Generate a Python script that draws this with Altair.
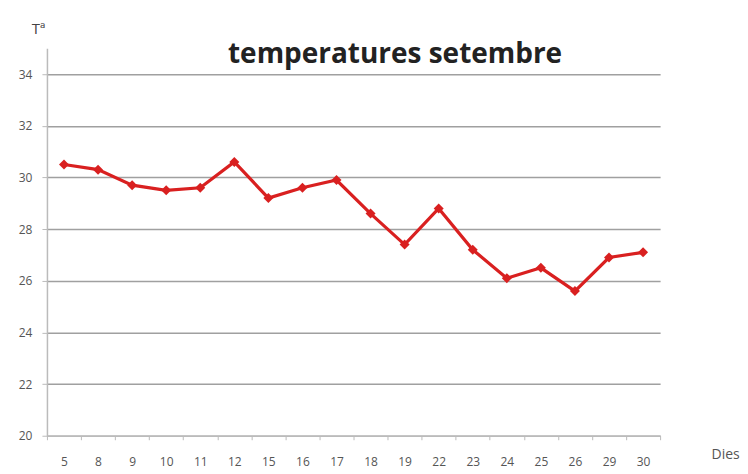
import altair as alt
import pandas as pd

dies = ["5", "8", "9", "10", "11", "12", "15", "16", "17", "18", "19", "22", "23", "24", "25", "26", "29", "30"]
temps = [30.5, 30.3, 29.7, 29.5, 29.6, 30.6, 29.2, 29.6, 29.9, 28.6, 27.4, 28.8, 27.2, 26.1, 26.5, 25.6, 26.9, 27.1]

df = pd.DataFrame({"dia": dies, "temp": temps})

x = alt.X("dia:N", sort=dies,
          scale=alt.Scale(paddingInner=0, paddingOuter=0),
          axis=alt.Axis(title="Dies", labelAngle=0, labelColor="#555555", labelFontSize=12,
                        labelFont="Open Sans", labelPadding=17, tickBand="extent",
                        tickColor="#bbbbbb", tickSize=4, domainColor="#bbbbbb", domainWidth=1.5,
                        grid=False, titleX=665, titleY=19, titleAlign="left",
                        titleBaseline="middle", titleFontWeight="normal", titleFontSize=14,
                        titleColor="#555555", titleFont="Open Sans"))
y = alt.Y("temp:Q",
          scale=alt.Scale(domain=[20, 35], nice=False, zero=False),
          axis=alt.Axis(title="Tª", values=[20, 22, 24, 26, 28, 30, 32, 34], labelColor="#555555",
                        labelFontSize=12, labelFont="Open Sans", labelPadding=10,
                        tickColor="#bbbbbb", tickSize=5, domainColor="#bbbbbb", domainWidth=1.5,
                        gridColor="#a0a0a0", gridWidth=1.5, titleAngle=0, titleX=-9, titleY=-20,
                        titleAlign="center", titleBaseline="middle", titleFontWeight="normal",
                        titleFontSize=15, titleColor="#444444", titleFont="Open Sans"))

line = alt.Chart(df).mark_line(color="#d92020", strokeWidth=3.2).encode(x=x, y=y)
pts = alt.Chart(df).mark_point(shape="diamond", filled=True, size=100, color="#d92020", opacity=1).encode(x=x, y=y)

chart = (line + pts).properties(
    width=614, height=388,
    title=alt.TitleParams(text="temperatures setembre", anchor="start", dx=210, offset=-48,
                          fontSize=28, font="Open Sans", fontWeight="bold", color="#222222"),
    autosize=alt.AutoSizeParams(type="none"),
    padding={"left": 39, "top": 40, "right": 80, "bottom": 34},
).configure_view(stroke=None)

chart.save("out.html", embed_options={"renderer": "svg", "actions": False})
